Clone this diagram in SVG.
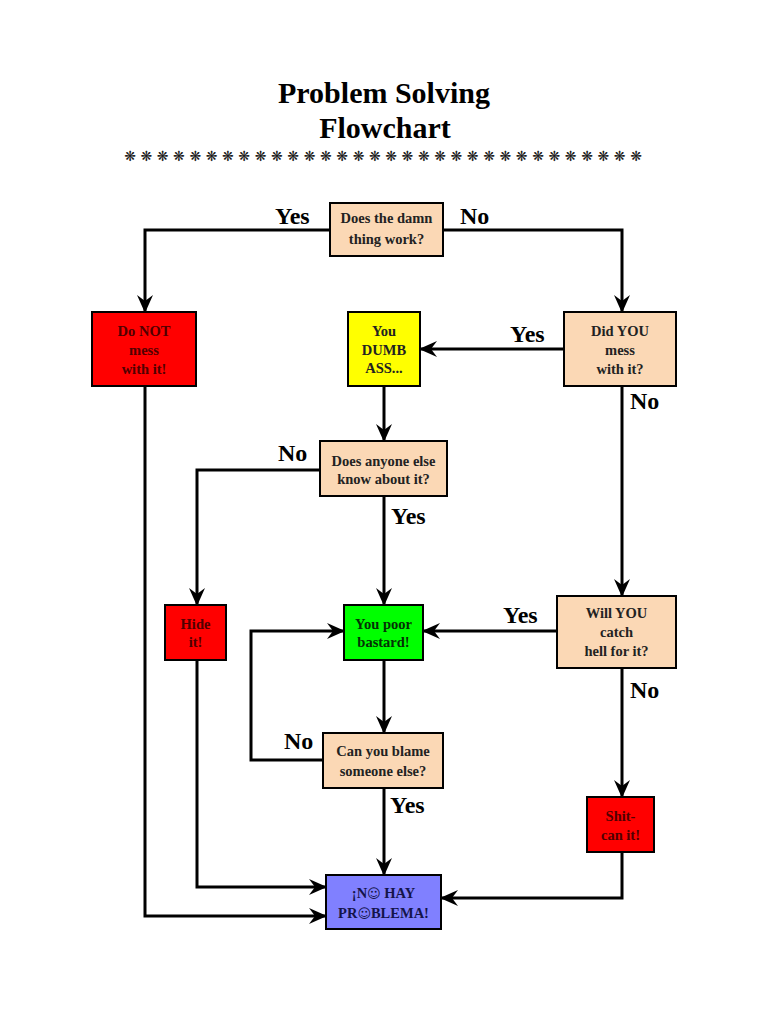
<svg xmlns="http://www.w3.org/2000/svg" width="768" height="1024" viewBox="0 0 768 1024">
<defs>
<marker id="ah" viewBox="-18 -9 19 18" refX="0" refY="0" markerWidth="19" markerHeight="18" markerUnits="userSpaceOnUse" orient="auto">
<path d="M1,0 L-17,-8 L-11,0 L-17,8 Z" fill="#000"/>
</marker>
</defs>
<style>
.t{font-family:"Liberation Serif","Times New Roman",serif;font-weight:bold;text-anchor:middle}
.title{font-size:30px;fill:#000}
.n{font-size:14.5px}
.lab{font-family:"Liberation Serif","Times New Roman",serif;font-weight:bold;font-size:24px;fill:#000}
.box{stroke:#000;stroke-width:2}
.peach{fill:#FBD8B5}
.red{fill:#FF0000}
.yel{fill:#FFFF00}
.grn{fill:#00FF00}
.pur{fill:#8080FF}
.conn path{fill:none;stroke:#000;stroke-width:3;marker-end:url(#ah)}
.star{font-family:"DejaVu Sans",sans-serif;font-size:14px;fill:#1a1a1a;text-anchor:middle}
.smile{font-family:"DejaVu Sans",sans-serif;font-weight:normal;font-size:13px}
</style>
<rect width="768" height="1024" fill="#fff"/>
<g id="title">
<text class="t title" x="384" y="103">Problem Solving</text>
<text class="t title" x="385" y="138">Flowchart</text>
<text class="star" y="161" x="130 146.3 162.6 178.9 195.3 211.6 227.9 244.2 260.6 276.9 293.2 309.5 325.8 342.2 358.5 374.8 391.1 407.4 423.8 440.1 456.4 472.7 489.1 505.4 521.7 538 554.3 570.7 587 603.3 619.6 636">❋❋❋❋❋❋❋❋❋❋❋❋❋❋❋❋❋❋❋❋❋❋❋❋❋❋❋❋❋❋❋❋</text>
</g>
<g id="connectors" class="conn">
<path d="M330,230 H145 V312"/>
<path d="M443,230 H622 V312"/>
<path d="M564,349 H420"/>
<path d="M622,386 V596"/>
<path d="M384,386 V441"/>
<path d="M320,470 H197 V605"/>
<path d="M384,496 V605"/>
<path d="M557,631 H423"/>
<path d="M622,668 V797"/>
<path d="M384,660 V733"/>
<path d="M323,760 H251 V631 H344"/>
<path d="M384,788 V875"/>
<path d="M197,660 V887 H326"/>
<path d="M145,386 V916 H326"/>
<path d="M622,852 V898 H441"/>
</g>
<g id="labels">
<text class="lab" x="275" y="224">Yes</text>
<text class="lab" x="460" y="224">No</text>
<text class="lab" x="510" y="342">Yes</text>
<text class="lab" x="630" y="409">No</text>
<text class="lab" x="278" y="461">No</text>
<text class="lab" x="391" y="524">Yes</text>
<text class="lab" x="503" y="623">Yes</text>
<text class="lab" x="630" y="698">No</text>
<text class="lab" x="284" y="749">No</text>
<text class="lab" x="390" y="813">Yes</text>
</g>
<g id="n-works">
<rect class="box peach" x="330" y="203" width="113" height="53"/>
<text class="t n" x="386.5" y="223" fill="#222">Does the damn</text>
<text class="t n" x="386.5" y="244" fill="#222">thing work?</text>
</g>
<g id="n-donot">
<rect class="box red" x="92" y="312" width="104" height="74"/>
<text class="t n" x="144" y="336" fill="#500000">Do NOT</text>
<text class="t n" x="144" y="355" fill="#500000">mess</text>
<text class="t n" x="144" y="374" fill="#500000">with it!</text>
</g>
<g id="n-dumb">
<rect class="box yel" x="348" y="312" width="72" height="74"/>
<text class="t n" x="384" y="336" fill="#222">You</text>
<text class="t n" x="384" y="355" fill="#222">DUMB</text>
<text class="t n" x="384" y="373" fill="#222">ASS...</text>
</g>
<g id="n-didyou">
<rect class="box peach" x="564" y="312" width="112" height="74"/>
<text class="t n" x="620" y="336" fill="#222">Did YOU</text>
<text class="t n" x="620" y="355" fill="#222">mess</text>
<text class="t n" x="620" y="374" fill="#222">with it?</text>
</g>
<g id="n-anyone">
<rect class="box peach" x="320" y="441" width="127" height="55"/>
<text class="t n" x="383.5" y="466" fill="#222">Does anyone else</text>
<text class="t n" x="383.5" y="484" fill="#222">know about it?</text>
</g>
<g id="n-hide">
<rect class="box red" x="165" y="605" width="61" height="55"/>
<text class="t n" x="195.5" y="629" fill="#500000">Hide</text>
<text class="t n" x="195.5" y="647" fill="#500000">it!</text>
</g>
<g id="n-bastard">
<rect class="box grn" x="344" y="605" width="79" height="55"/>
<text class="t n" x="383.5" y="629" fill="#053005">You poor</text>
<text class="t n" x="383.5" y="647" fill="#053005">bastard!</text>
</g>
<g id="n-catchhell">
<rect class="box peach" x="557" y="596" width="119" height="72"/>
<text class="t n" x="616.5" y="618" fill="#222">Will YOU</text>
<text class="t n" x="616.5" y="637" fill="#222">catch</text>
<text class="t n" x="616.5" y="656" fill="#222">hell for it?</text>
</g>
<g id="n-blame">
<rect class="box peach" x="323" y="733" width="120" height="55"/>
<text class="t n" x="383" y="756" fill="#222">Can you blame</text>
<text class="t n" x="383" y="776" fill="#222">someone else?</text>
</g>
<g id="n-shitcan">
<rect class="box red" x="587" y="797" width="67" height="55"/>
<text class="t n" x="620.5" y="821" fill="#500000">Shit-</text>
<text class="t n" x="620.5" y="840" fill="#500000">can it!</text>
</g>
<g id="n-nohay">
<rect class="box pur" x="326" y="875" width="115" height="54"/>
<text class="t n" x="383.5" y="898" fill="#14144a">¡N<tspan class="smile">☺</tspan>  HAY</text>
<text class="t n" x="383.5" y="918" fill="#14144a">PR<tspan class="smile">☺</tspan>BLEMA!</text>
</g>
</svg>
